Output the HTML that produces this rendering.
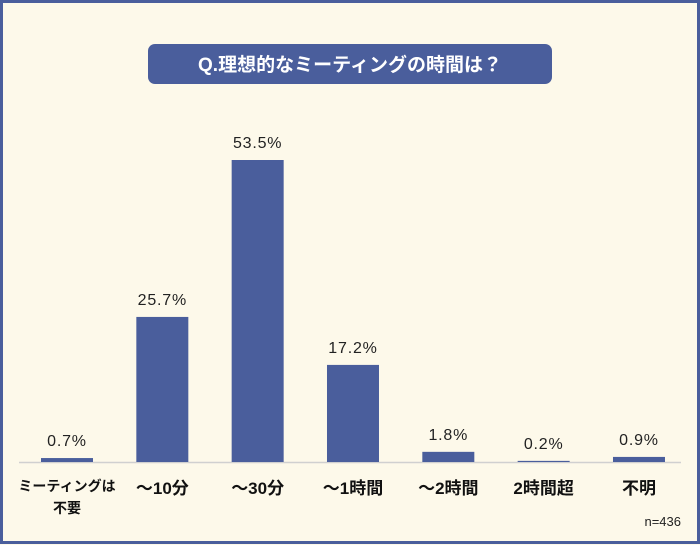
<!DOCTYPE html>
<html><head><meta charset="utf-8"><style>
body{margin:0;width:700px;height:545px;overflow:hidden;background:#fdf9ea}
svg{display:block;font-family:"Liberation Sans","Noto Sans CJK JP",sans-serif}
</style></head><body>
<svg width="700" height="545">
<rect x="1.5" y="1.5" width="697" height="541" fill="#fdf9ea" stroke="#4a5e9c" stroke-width="3"/>
<rect x="148" y="44" width="404" height="40" rx="7" fill="#4a5e9c"/>
<text x="350" y="71" text-anchor="middle" font-size="19" font-weight="bold" fill="#fff">Q.理想的なミーティングの時間は？</text>
<line x1="19" y1="462.5" x2="681" y2="462.5" stroke="#d0d0d0" stroke-width="1.5"/>
<g id="bars"></g>
<text x="681" y="526" text-anchor="end" font-size="13" fill="#222">n=436</text>
</svg>
<script>
const categories=["ミーティングは|不要","～10分","～30分","～1時間","～2時間","2時間超","不明"];
const values=[0.7,25.7,53.5,17.2,1.8,0.2,0.9];
const labels=["0.7%","25.7%","53.5%","17.2%","1.8%","0.2%","0.9%"];
const NS="http://www.w3.org/2000/svg";
const g=document.getElementById("bars");
const baseY=462,pxPer=302/53.5,x0=67,step=95.33,bw=52;
function xs(i){return x0+i*step;}
function ys(v){return baseY-v*pxPer;}
values.forEach((v,i)=>{
 const cx=xs(i),top=ys(v);
 const r=document.createElementNS(NS,"rect");
 r.setAttribute("x",cx-bw/2);r.setAttribute("y",top);r.setAttribute("width",bw);r.setAttribute("height",Math.max(baseY-top,1));r.setAttribute("fill","#4a5e9c");
 
 
 g.appendChild(r);
 const t=document.createElementNS(NS,"text");
 t.setAttribute("x",cx);t.setAttribute("y",Math.min(top,baseY-1)-12);t.setAttribute("text-anchor","middle");t.setAttribute("font-size","16");t.setAttribute("letter-spacing","0.8");t.setAttribute("fill","#222");t.textContent=labels[i];
 
 
 g.appendChild(t);
 const parts=categories[i].split("|");
 const multi=parts.length>1;
 parts.forEach((p,j)=>{
  const c=document.createElementNS(NS,"text");
  c.setAttribute("x",cx);c.setAttribute("y",multi?491+j*22:494);c.setAttribute("text-anchor","middle");
  c.setAttribute("font-size",multi?"14":"17");c.setAttribute("font-weight","bold");c.setAttribute("fill","#111");c.textContent=p;
  
  
  g.appendChild(c);
 });
});
</script>
</body></html>
